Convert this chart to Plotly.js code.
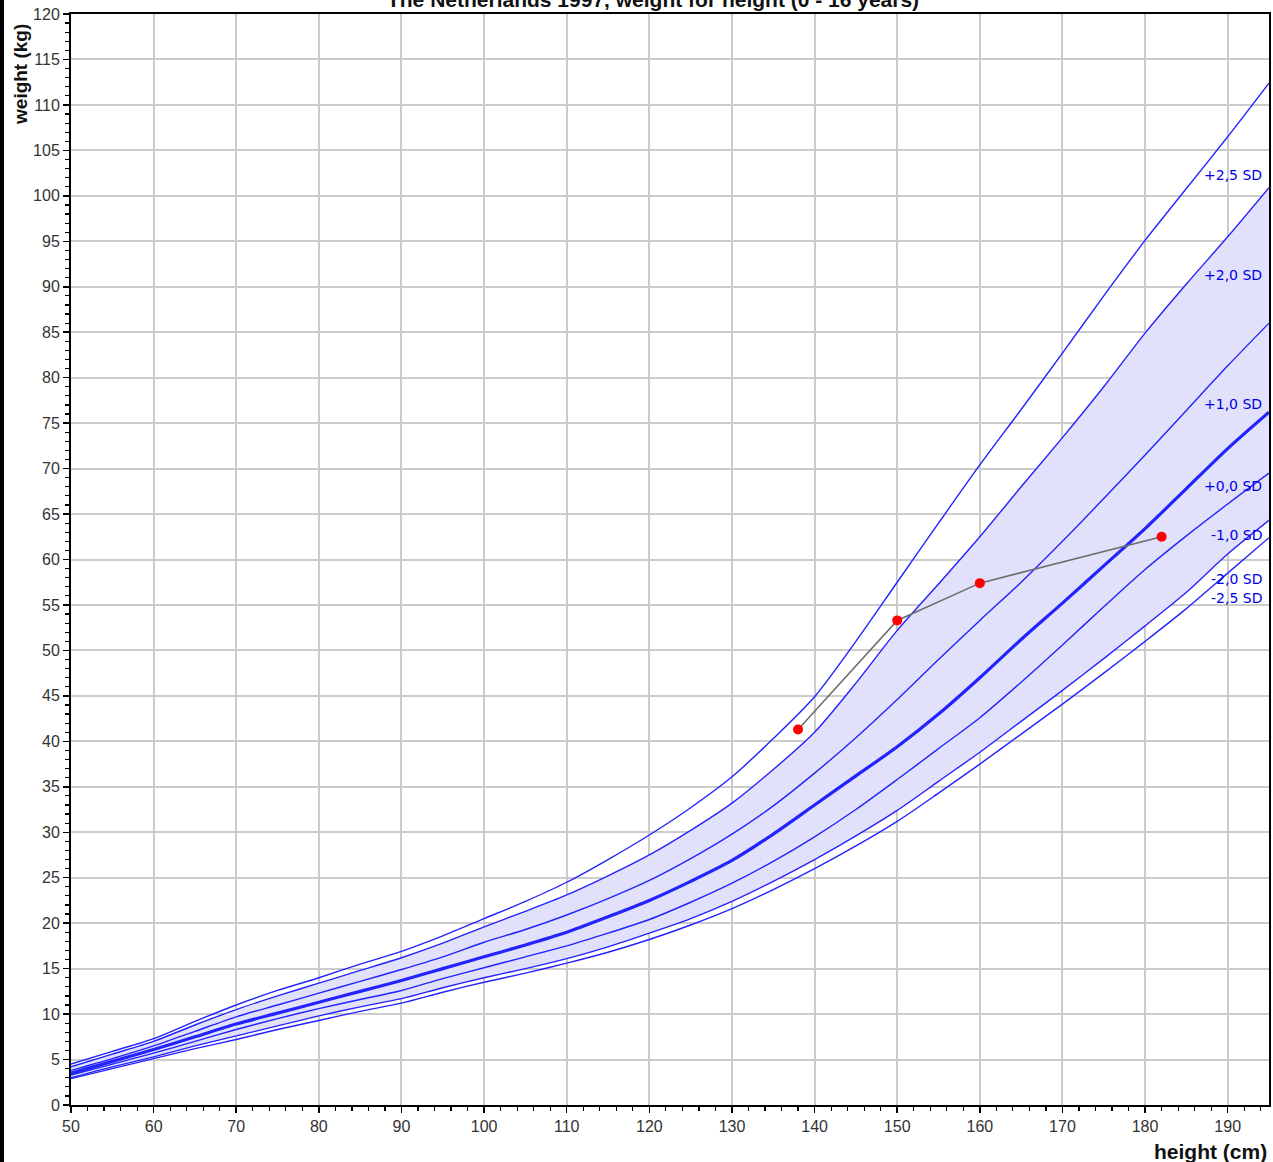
<!DOCTYPE html>
<html>
<head>
<meta charset="utf-8">
<script src="https://cdn.plot.ly/plotly-3.0.1.min.js"></script>
<style>
  html, body { margin: 0; padding: 0; background: #ffffff; overflow: hidden; }
  #chart { width: 1273px; height: 1162px; }
  #strip { position: absolute; left: 0; top: 0; width: 4px; height: 1162px; background: #000; z-index: 10; }
</style>
</head>
<body>
<div id="strip"></div>
<div id="chart"></div>
<script>
// ---- data ----
const heights = [50,55,60,65,70,75,80,85,90,95,100,105,110,115,120,125,130,135,140,145,150,155,160,165,170,175,180,185,190,195];

const sdPlus25  = [4.5,5.9,7.3,9.2,11.0,12.6,14.0,15.5,16.9,18.6,20.5,22.4,24.5,27.0,29.7,32.7,36.1,40.3,44.9,51.0,57.5,64.0,70.4,76.5,82.7,89.0,95.1,100.8,106.5,112.4];
const sdPlus20  = [4.2,5.6,7.0,8.8,10.5,12.0,13.4,14.8,16.2,17.8,19.6,21.3,23.1,25.2,27.5,30.2,33.2,36.9,41.0,46.4,52.2,57.3,62.5,68.0,73.4,79.0,84.9,90.3,95.5,100.9];
const sdPlus10  = [3.8,5.1,6.5,8.1,9.7,11.0,12.3,13.6,14.9,16.3,17.9,19.3,20.9,22.7,24.7,27.1,29.8,32.9,36.5,40.4,44.6,49.0,53.3,57.5,62.0,66.7,71.5,76.4,81.3,86.0];
const sd0       = [3.5,4.8,6.1,7.5,8.9,10.1,11.3,12.5,13.7,15.0,16.3,17.6,19.0,20.7,22.5,24.6,26.9,29.8,33.0,36.2,39.4,43.0,47.0,51.2,55.2,59.3,63.4,67.8,72.2,76.2];
const sdMinus10 = [3.3,4.5,5.7,7.0,8.3,9.5,10.6,11.6,12.6,13.9,15.1,16.3,17.5,18.9,20.4,22.3,24.4,26.8,29.5,32.5,35.8,39.2,42.6,46.5,50.6,54.8,58.9,62.6,66.1,69.5];
const sdMinus20 = [3.0,4.2,5.3,6.5,7.6,8.7,9.8,10.8,11.7,12.9,14.0,15.0,16.1,17.4,18.9,20.5,22.4,24.6,27.0,29.6,32.4,35.6,38.8,42.2,45.6,49.1,52.7,56.4,60.6,64.3];
const sdMinus25 = [2.9,4.0,5.1,6.2,7.2,8.3,9.3,10.3,11.2,12.4,13.5,14.5,15.6,16.8,18.2,19.8,21.6,23.7,26.0,28.5,31.2,34.3,37.5,40.8,44.1,47.5,51.0,54.6,58.5,62.4];

const measHeights = [138, 150, 160, 182];
const measWeights = [41.3, 53.3, 57.4, 62.5];

const sdLabels    = ["+2,5 SD", "+2,0 SD", "+1,0 SD", "+0,0 SD", "-1,0 SD", "-2,0 SD", "-2,5 SD"];
const sdLabelY    = [102.3, 91.3, 77.1, 68.1, 62.7, 57.9, 55.8];

const titleText = "The Netherlands 1997, weight for height (0 - 16 years)";
const xTitle = "height (cm)";
const yTitle = "weight (kg)";

// ---- drawing ----
const FONT = "'Liberation Sans', Arial, Helvetica, sans-serif";
const LABEL_FONT = "'DejaVu Sans', Verdana, sans-serif";
const BLUE = "rgb(35,35,255)";

function sdLine(y, w) {
  return { x: heights, y: y, type: "scatter", mode: "lines",
           line: { color: BLUE, width: w, shape: "spline", smoothing: 0.8 }, hoverinfo: "skip" };
}

const traces = [];
traces.push(sdLine(sdMinus20, 1.4));
const band = sdLine(sdPlus20, 1.4);
band.fill = "tonexty";
band.fillcolor = "rgba(225,225,251,1)";
traces.push(band);
traces.push(sdLine(sdMinus25, 1.4));
traces.push(sdLine(sdMinus10, 1.4));
traces.push(sdLine(sdPlus10, 1.4));
traces.push(sdLine(sdPlus25, 1.4));
traces.push(sdLine(sd0, 3.2));
traces.push({
  x: measHeights, y: measWeights, type: "scatter", mode: "lines+markers",
  line: { color: "rgb(110,110,110)", width: 1.6 },
  marker: { color: "rgb(255,0,0)", size: 10 },
  hoverinfo: "skip"
});

const annotations = sdLabels.map((t, i) => ({
  text: t, x: 195, y: sdLabelY[i], xref: "x", yref: "y",
  xanchor: "right", yanchor: "middle", xshift: -5, showarrow: false,
  font: { family: LABEL_FONT, size: 14, color: "rgb(0,0,230)" }
}));
annotations.push({
  text: yTitle, xref: "paper", yref: "paper", x: -0.0426, y: 0.945,
  xanchor: "center", yanchor: "middle", textangle: -90, showarrow: false,
  font: { family: FONT, size: 19, color: "#111", weight: "bold" }
});
annotations.push({
  text: xTitle, xref: "paper", yref: "paper", x: 1.0, y: -0.043,
  xanchor: "right", yanchor: "middle", showarrow: false,
  font: { family: FONT, size: 21, color: "#111", weight: "bold" }
});

const axisCommon = {
  showline: true, linecolor: "#000", linewidth: 2, mirror: true,
  showgrid: true, gridcolor: "#cccccc", gridwidth: 2,
  zeroline: false, ticks: "outside", tickcolor: "#000", tickwidth: 1.5,
  tickfont: { family: FONT, size: 16, color: "#333" }
};

const layout = {
  width: 1273, height: 1162,
  margin: { l: 71, r: 4, t: 14, b: 57, pad: 0 },
  paper_bgcolor: "#ffffff", plot_bgcolor: "#ffffff",
  showlegend: false, hovermode: false,
  title: {
    text: titleText, xref: "container", yref: "container",
    x: 0.513, xanchor: "center", y: 1.0, yanchor: "middle",
    font: { family: FONT, size: 21, color: "#111", weight: "bold" }
  },
  xaxis: Object.assign({}, axisCommon, {
    range: [50, 195], dtick: 10, tick0: 50, ticklen: 6,
    minor: { dtick: 2, tick0: 50, ticks: "outside", ticklen: 4, tickcolor: "#000", tickwidth: 1.2, showgrid: false }
  }),
  yaxis: Object.assign({}, axisCommon, {
    range: [0, 120], dtick: 5, tick0: 0, ticklen: 6,
    minor: { dtick: 1, tick0: 0, ticks: "outside", ticklen: 4, tickcolor: "#000", tickwidth: 1.2, showgrid: false }
  }),
  annotations: annotations
};

Plotly.newPlot("chart", traces, layout, { staticPlot: true, displayModeBar: false });
</script>
</body>
</html>
